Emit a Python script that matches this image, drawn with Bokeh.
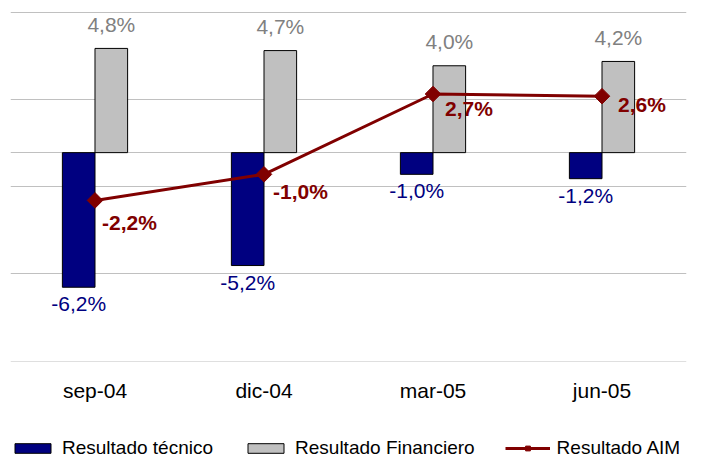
import numpy as np
from bokeh.plotting import figure
from bokeh.layouts import column
from bokeh.models import ColumnDataSource, FactorRange, Range1d, FixedTicker, Legend, LegendItem
from bokeh.transform import dodge
from bokeh.core.properties import value
from bokeh.embed import file_html
from bokeh.resources import INLINE

# ---- data ----
categories = ["sep-04", "dic-04", "mar-05", "jun-05"]
resultado_tecnico = [-6.2, -5.2, -1.0, -1.2]
resultado_financiero = [4.8, 4.7, 4.0, 4.2]
resultado_aim = [-2.2, -1.0, 2.7, 2.6]
series_names = ["Resultado técnico", "Resultado Financiero", "Resultado AIM"]


def fmt(v):
    return f"{v:.1f}%".replace(".", ",")


# ---- styling constants ----
FONT = value("Liberation Sans")
NAVY = "#000080"
GRAY = "#C0C0C0"
DARKRED = "#800000"
GRID_LO, GRID_HI = -9.6, 6.45
Y_LO, Y_HI = -9.62, 6.5
BAR_W = 0.193
DODGE = 0.0965
aim_label_dx = [7, 9, 12, 16]
aim_label_dy = [22, 17, 14, 8]

src = ColumnDataSource(dict(
    cat=categories,
    tec=resultado_tecnico,
    fin=resultado_financiero,
    aim=resultado_aim,
    tec_lbl=[fmt(v) for v in resultado_tecnico],
    fin_lbl=[fmt(v) for v in resultado_financiero],
    aim_lbl=[fmt(v) for v in resultado_aim],
    aim_dx=aim_label_dx,
    aim_dy=aim_label_dy,
))

# ---------------- main chart ----------------
p = figure(
    x_range=FactorRange(factors=categories, range_padding=0),
    y_range=Range1d(Y_LO, Y_HI),
    width=718, height=430,
    min_border_left=10, min_border_right=32, min_border_top=11, min_border_bottom=69,
    output_backend="svg", toolbar_location=None,
)
p.outline_line_color = None
p.background_fill_color = "white"
p.border_fill_color = "white"

grid_ticks = list(np.linspace(GRID_LO, GRID_HI, 5)) + [0.0]
p.yaxis.ticker = FixedTicker(ticks=grid_ticks)
p.ygrid.ticker = FixedTicker(ticks=grid_ticks)
p.yaxis.visible = False
p.ygrid.grid_line_color = GRAY
p.ygrid.grid_line_width = 1
p.xgrid.grid_line_color = None

xa = p.xaxis[0]
xa.axis_line_color = None
xa.major_tick_line_color = None
xa.minor_tick_line_color = None
xa.major_tick_in = 0
xa.major_tick_out = 0
xa.major_label_standoff = 17
xa.major_label_text_font = "Liberation Sans"
xa.major_label_text_font_size = "21px"
xa.major_label_text_color = "black"

p.vbar(x=dodge("cat", -DODGE, range=p.x_range), top="tec", bottom=0, width=BAR_W,
       fill_color=NAVY, line_color="black", line_width=1, source=src)
p.vbar(x=dodge("cat", DODGE, range=p.x_range), top="fin", bottom=0, width=BAR_W,
       fill_color=GRAY, line_color="black", line_width=1, source=src)
p.line(x="cat", y="aim", line_color=DARKRED, line_width=3, source=src)
p.scatter(x="cat", y="aim", marker="square", angle=np.pi / 4, size=11,
          fill_color=DARKRED, line_color=DARKRED, source=src)

p.text(x=dodge("cat", DODGE, range=p.x_range), y="fin", text="fin_lbl", source=src,
       text_align="center", text_baseline="alphabetic", y_offset=-24,
       text_font=FONT, text_font_size="21px", text_color="#808080")
p.text(x=dodge("cat", -DODGE, range=p.x_range), y="tec", text="tec_lbl", source=src,
       text_align="center", text_baseline="top", y_offset=5,
       text_font=FONT, text_font_size="21px", text_color=NAVY)
p.text(x="cat", y="aim", text="aim_lbl", source=src,
       text_align="left", text_baseline="middle", x_offset="aim_dx", y_offset="aim_dy",
       text_font=FONT, text_font_size="21px", text_font_style="bold", text_color=DARKRED)

# ---------------- legend strip ----------------
# legend-only renderers: a single NaN point each, so nothing is drawn on the strip itself
nan = [float("nan")]
lf = figure(width=718, height=29, x_range=Range1d(0, 1), y_range=Range1d(0, 1),
            x_axis_type=None, y_axis_type=None, min_border=0,
            output_backend="svg", toolbar_location=None)
lf.outline_line_color = None
lf.grid.visible = False
lg_tec = lf.vbar(x=nan, top=nan, width=1, fill_color=NAVY, line_color="black", line_width=1)
lg_fin = lf.vbar(x=nan, top=nan, width=1, fill_color=GRAY, line_color="black", line_width=1)
lg_line = lf.line(x=nan, y=nan, line_color=DARKRED, line_width=3)
lg_mark = lf.scatter(x=nan, y=nan, marker="square", angle=np.pi / 4, size=11,
                     fill_color=DARKRED, line_color=DARKRED)

legend = Legend(
    items=[
        LegendItem(label=series_names[0], renderers=[lg_tec]),
        LegendItem(label=series_names[1], renderers=[lg_fin]),
        LegendItem(label=series_names[2], renderers=[lg_line, lg_mark]),
    ],
    location=(0, 0), orientation="horizontal",
    border_line_color=None, background_fill_alpha=0,
    padding=0, margin=0, spacing=30,
    glyph_width=45, glyph_height=12, label_standoff=7,
    label_text_font="Liberation Sans", label_text_font_size="19px", label_text_color="black",
)
lf.add_layout(legend)

layout = column(p, lf, spacing=0)
open("out.html", "w").write(file_html(layout, INLINE))
